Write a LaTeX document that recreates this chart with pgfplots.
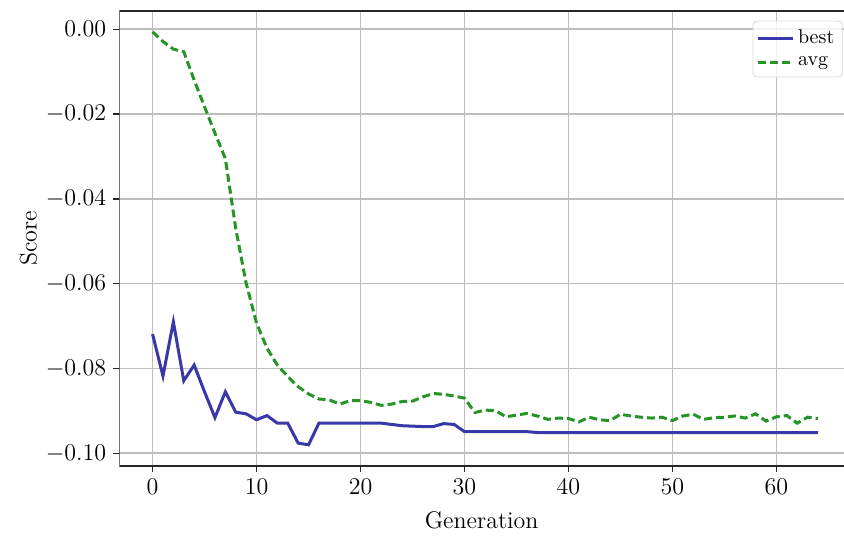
\documentclass[border=0pt]{standalone}
\usepackage{pgfplots}
\pgfplotsset{compat=1.18}
\definecolor{bestc}{RGB}{56,56,168}
\definecolor{avgc}{RGB}{38,148,38}
\definecolor{gridc}{RGB}{190,190,190}
\begin{document}
\begin{tikzpicture}
\begin{axis}[
  name=ax,
  scale only axis,
  width=362.35pt, height=227.5pt,
  xmin=-3.2, xmax=66.5,
  ymin=-0.103, ymax=0.0043,
  xtick={0,10,20,30,40,50,60},
  ytick={-0.10,-0.08,-0.06,-0.04,-0.02,0},
  scaled y ticks=false,
  yticklabel style={/pgf/number format/fixed,/pgf/number format/precision=2,/pgf/number format/fixed zerofill},
  tick label style={font=\large},
  label style={font=\large},
  xlabel={Generation}, ylabel={Score},
  xlabel shift=1.5pt, ylabel shift=-2.5pt,
  grid=major,
  major grid style={gridc, line width=0.8pt},
  tick align=outside,
  xtick pos=bottom, ytick pos=left,
  major tick length=3pt,
  tick style={black!85, line width=0.7pt},
  axis line style={draw=none},
  legend cell align=left,
  legend style={at={(1,1)}, anchor=north east, xshift=-0.65pt, yshift=-4.85pt,
    draw=black!15, rounded corners=2pt, fill=white, fill opacity=0.8, text opacity=1,
    font=\normalsize, inner xsep=2pt, inner ysep=2.5pt, row sep=0.5pt},
]
\addplot[bestc, line width=1.5pt] coordinates {
(0,-0.0719) (1,-0.0818) (2,-0.0690) (3,-0.0829) (4,-0.0792) (5,-0.0855) (6,-0.0916) (7,-0.0855)
(8,-0.0903) (9,-0.0907) (10,-0.0921) (11,-0.0911) (12,-0.0929) (13,-0.0929) (14,-0.0976) (15,-0.0980)
(16,-0.0929) (17,-0.0929) (18,-0.0929) (19,-0.0929) (20,-0.0929) (21,-0.0929) (22,-0.0929)
(23,-0.0932) (24,-0.0935) (25,-0.0936) (26,-0.0937) (27,-0.0937) (28,-0.0930) (29,-0.0932)
(30,-0.0949) (31,-0.0949) (32,-0.0949) (33,-0.0949) (34,-0.0949) (35,-0.0949) (36,-0.0949)
(37,-0.0951) (38,-0.0951) (39,-0.0951) (40,-0.0951) (41,-0.0951) (42,-0.0951) (43,-0.0951)
(44,-0.0951) (45,-0.0951) (46,-0.0951) (47,-0.0951) (48,-0.0951) (49,-0.0951) (50,-0.0951)
(51,-0.0951) (52,-0.0951) (53,-0.0951) (54,-0.0951) (55,-0.0951) (56,-0.0951) (57,-0.0951)
(58,-0.0951) (59,-0.0951) (60,-0.0951) (61,-0.0951) (62,-0.0951) (63,-0.0951) (64,-0.0951)
};
\addlegendentry{best}
\addplot[avgc, line width=1.5pt, dash pattern=on 4pt off 2pt] coordinates {
(0,-0.0006) (1,-0.0029) (2,-0.0047) (3,-0.0053) (4,-0.0120) (5,-0.0183) (6,-0.0245) (7,-0.0305)
(8,-0.0470) (9,-0.0599) (10,-0.0693) (11,-0.0752) (12,-0.0792) (13,-0.0819) (14,-0.0843) (15,-0.0860)
(16,-0.0872) (17,-0.0874) (18,-0.0884) (19,-0.0876) (20,-0.0876) (21,-0.0880) (22,-0.0887)
(23,-0.0884) (24,-0.0878) (25,-0.0877) (26,-0.0867) (27,-0.0859) (28,-0.0861) (29,-0.0865)
(30,-0.0870) (31,-0.0904) (32,-0.0898) (33,-0.0900) (34,-0.0914) (35,-0.0910) (36,-0.0906)
(37,-0.0912) (38,-0.0920) (39,-0.0917) (40,-0.0918) (41,-0.0926) (42,-0.0915) (43,-0.0921)
(44,-0.0923) (45,-0.0908) (46,-0.0912) (47,-0.0915) (48,-0.0917) (49,-0.0915) (50,-0.0923)
(51,-0.0912) (52,-0.0908) (53,-0.0920) (54,-0.0916) (55,-0.0915) (56,-0.0912) (57,-0.0917)
(58,-0.0907) (59,-0.0924) (60,-0.0914) (61,-0.0911) (62,-0.0929) (63,-0.0915) (64,-0.0918)
};
\addlegendentry{avg}
\draw[black!85, line width=0.9pt] (rel axis cs:1,1) -- (rel axis cs:0,1) -- (rel axis cs:0,0) -- (rel axis cs:1,0);
\end{axis}
\pgfresetboundingbox
\path[use as bounding box] ([shift={(-59.65pt,-35pt)}]ax.south west) rectangle ([shift={(0pt,5.5pt)}]ax.north east);
\end{tikzpicture}
\end{document}
